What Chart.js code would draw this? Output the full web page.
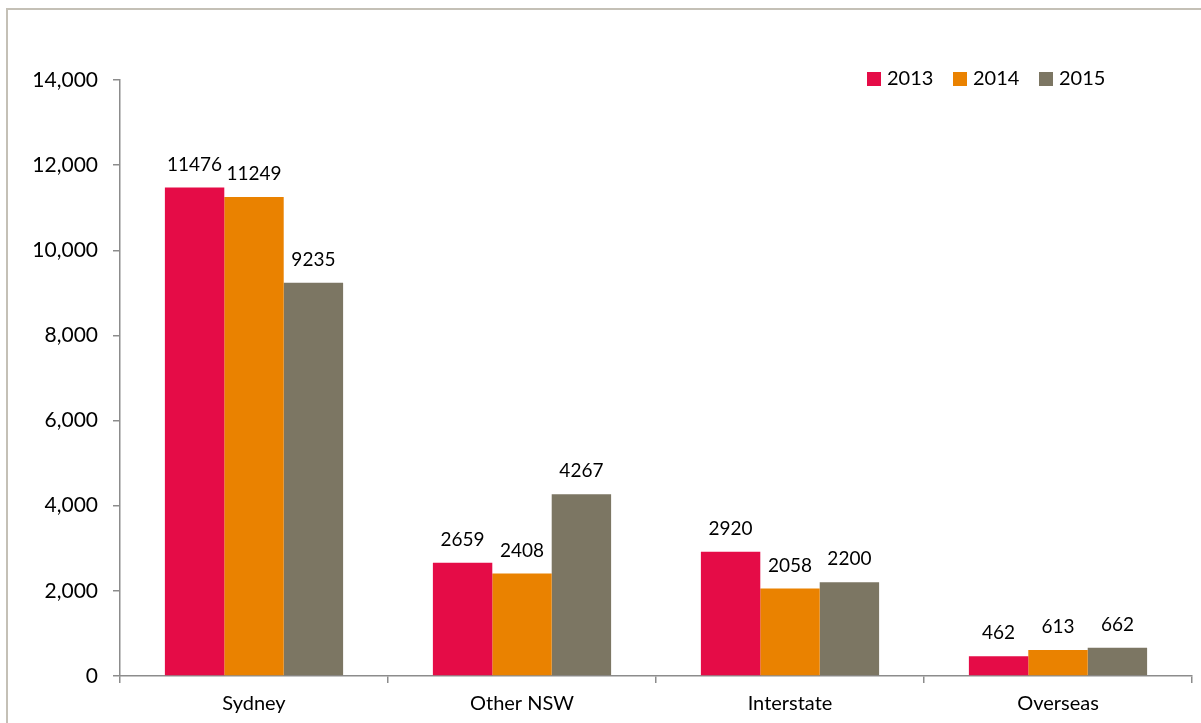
<!DOCTYPE html>
<html>
<head>
<meta charset="utf-8">
<script src="https://cdn.jsdelivr.net/npm/chart.js@4/dist/chart.umd.min.js"></script>
<style>
  html,body{margin:0;padding:0;background:#fff;}
  #wrap{position:relative;width:1201px;height:723px;overflow:hidden;}
  #frame{position:absolute;left:6px;top:8px;width:1300px;height:800px;border-left:2px solid #C4C0B6;border-top:2px solid #C4C0B6;}
  canvas{position:absolute;left:0;top:0;}
</style>
</head>
<body>
<div id="wrap">
  <div id="frame"></div>
  <canvas id="c" width="1201" height="723"></canvas>
</div>
<script>
const categories = ["Sydney", "Other NSW", "Interstate", "Overseas"];
const seriesNames = ["2013", "2014", "2015"];
const values2013 = [11476, 2659, 2920, 462];
const values2014 = [11249, 2408, 2058, 613];
const values2015 = [9235, 4267, 2200, 662];
const yTicks = [0, 2000, 4000, 6000, 8000, 10000, 12000, 14000];
const colors = ["#E50C47", "#EA8200", "#7C7663"];

const FONT = "Lato, 'Open Sans', sans-serif";

const dataLabels = {
  id: 'dataLabels',
  afterDatasetsDraw(chart) {
    const ctx = chart.ctx;
    ctx.save();
    ctx.font = "19px " + FONT;
    ctx.fillStyle = "#000";
    ctx.textAlign = "center";
    ctx.textBaseline = "middle";
    chart.data.datasets.forEach((ds, i) => {
      const meta = chart.getDatasetMeta(i);
      meta.data.forEach((bar, j) => {
        ctx.fillText(String(ds.data[j]), bar.x, bar.y - 23);
      });
    });
    ctx.restore();
  }
};

const customLegend = {
  id: 'customLegend',
  afterDraw(chart) {
    const ctx = chart.ctx;
    const area = chart.chartArea;
    ctx.save();
    ctx.font = "20px " + FONT;
    ctx.textBaseline = "middle";
    ctx.textAlign = "left";
    let x = area.right - 325;
    const y = area.top - 1;
    chart.data.datasets.forEach((ds) => {
      ctx.fillStyle = ds.backgroundColor;
      ctx.fillRect(x, y - 7, 14, 14);
      ctx.fillStyle = "#000";
      ctx.fillText(ds.label, x + 20, y);
      x += 86;
    });
    ctx.restore();
  }
};

new Chart(document.getElementById('c'), {
  type: 'bar',
  data: {
    labels: categories,
    datasets: [
      { label: seriesNames[0], data: values2013, backgroundColor: colors[0] },
      { label: seriesNames[1], data: values2014, backgroundColor: colors[1] },
      { label: seriesNames[2], data: values2015, backgroundColor: colors[2] }
    ]
  },
  options: {
    responsive: false,
    animation: false,
    devicePixelRatio: 1,
    layout: { padding: { left: 0, top: 80, right: 9, bottom: 0 } },
    datasets: { bar: { categoryPercentage: 0.665, barPercentage: 1.0 } },
    plugins: { legend: { display: false }, tooltip: { enabled: false } },
    scales: {
      x: {
        grid: { display: true, drawOnChartArea: false, offset: true, tickLength: 7, color: "#8C8C8C", lineWidth: 1.5 },
        border: { display: true, color: "#8C8C8C", width: 1.5 },
        ticks: { font: { family: FONT, size: 20 }, color: "#000", padding: 9 },
        afterFit(scale) { scale.height = 47; }
      },
      y: {
        min: 0, max: 14000,
        afterBuildTicks(scale) { scale.ticks = yTicks.map(v => ({ value: v })); },
        grid: { display: true, drawOnChartArea: false, tickLength: 7, color: "#8C8C8C", lineWidth: 1.5 },
        border: { display: true, color: "#8C8C8C", width: 1.5 },
        ticks: {
          font: { family: FONT, size: 21 }, color: "#000", padding: 15,
          callback: (v) => Number(v).toLocaleString('en-US')
        },
        afterFit(scale) { scale.width = 120; }
      }
    }
  },
  plugins: [dataLabels, customLegend]
});
</script>
</body>
</html>
